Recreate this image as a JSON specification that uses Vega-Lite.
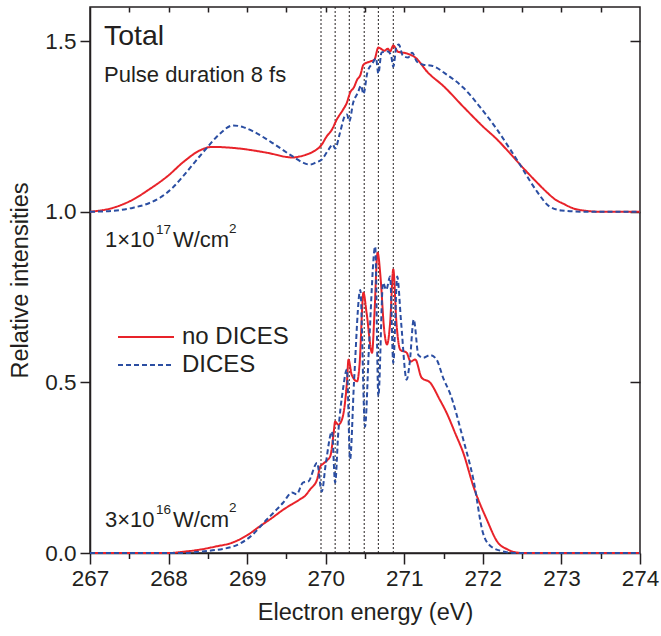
{
  "$schema": "https://vega.github.io/schema/vega-lite/v6.json",
  "autosize": {"type": "none"},
  "width": 550,
  "height": 546,
  "padding": {"left": 90, "top": 7, "right": 21, "bottom": 83},
  "background": "white",
  "config": {
    "font": "Liberation Sans",
    "view": {"stroke": "#231f20", "strokeWidth": 1.5},
    "axis": {
      "domainColor": "#231f20", "domainWidth": 1.5, "tickColor": "#231f20", "tickWidth": 1.5,
      "labelColor": "#231f20", "labelFontSize": 22.5, "titleFontSize": 23.5, "titleFontWeight": "normal",
      "titleColor": "#231f20", "grid": false, "labelFont": "Liberation Sans", "titleFont": "Liberation Sans"
    },
    "legend": {"labelFont": "Liberation Sans"}
  },
  "datasets": {
    "vlines": [{"e": 269.94}, {"e": 270.12}, {"e": 270.30}, {"e": 270.49}, {"e": 270.67}, {"e": 270.86}],
    "curves": [
      {"s": "no DICES", "g": "top", "e": 267.0, "v": 1.0},
      {"s": "no DICES", "g": "top", "e": 267.3, "v": 1.012},
      {"s": "no DICES", "g": "top", "e": 267.55, "v": 1.036},
      {"s": "no DICES", "g": "top", "e": 267.75, "v": 1.065},
      {"s": "no DICES", "g": "top", "e": 267.98, "v": 1.103},
      {"s": "no DICES", "g": "top", "e": 268.2, "v": 1.148},
      {"s": "no DICES", "g": "top", "e": 268.4, "v": 1.18},
      {"s": "no DICES", "g": "top", "e": 268.55, "v": 1.19},
      {"s": "no DICES", "g": "top", "e": 268.91, "v": 1.185},
      {"s": "no DICES", "g": "top", "e": 269.25, "v": 1.173},
      {"s": "no DICES", "g": "top", "e": 269.58, "v": 1.159},
      {"s": "no DICES", "g": "top", "e": 269.67, "v": 1.162},
      {"s": "no DICES", "g": "top", "e": 269.76, "v": 1.168},
      {"s": "no DICES", "g": "top", "e": 269.84, "v": 1.176},
      {"s": "no DICES", "g": "top", "e": 269.95, "v": 1.197},
      {"s": "no DICES", "g": "top", "e": 270.01, "v": 1.22},
      {"s": "no DICES", "g": "top", "e": 270.08, "v": 1.241},
      {"s": "no DICES", "g": "top", "e": 270.14, "v": 1.27},
      {"s": "no DICES", "g": "top", "e": 270.22, "v": 1.299},
      {"s": "no DICES", "g": "top", "e": 270.27, "v": 1.32},
      {"s": "no DICES", "g": "top", "e": 270.31, "v": 1.349},
      {"s": "no DICES", "g": "top", "e": 270.36, "v": 1.365},
      {"s": "no DICES", "g": "top", "e": 270.4, "v": 1.387},
      {"s": "no DICES", "g": "top", "e": 270.44, "v": 1.4},
      {"s": "no DICES", "g": "top", "e": 270.48, "v": 1.431},
      {"s": "no DICES", "g": "top", "e": 270.56, "v": 1.44},
      {"s": "no DICES", "g": "top", "e": 270.62, "v": 1.446},
      {"s": "no DICES", "g": "top", "e": 270.67, "v": 1.481},
      {"s": "no DICES", "g": "top", "e": 270.75, "v": 1.472},
      {"s": "no DICES", "g": "top", "e": 270.79, "v": 1.478},
      {"s": "no DICES", "g": "top", "e": 270.82, "v": 1.47},
      {"s": "no DICES", "g": "top", "e": 270.86, "v": 1.487},
      {"s": "no DICES", "g": "top", "e": 270.92, "v": 1.469},
      {"s": "no DICES", "g": "top", "e": 271.03, "v": 1.464},
      {"s": "no DICES", "g": "top", "e": 271.14, "v": 1.452},
      {"s": "no DICES", "g": "top", "e": 271.3, "v": 1.408},
      {"s": "no DICES", "g": "top", "e": 271.5, "v": 1.368},
      {"s": "no DICES", "g": "top", "e": 271.75, "v": 1.308},
      {"s": "no DICES", "g": "top", "e": 272.0, "v": 1.25},
      {"s": "no DICES", "g": "top", "e": 272.18, "v": 1.212},
      {"s": "no DICES", "g": "top", "e": 272.35, "v": 1.17},
      {"s": "no DICES", "g": "top", "e": 272.51, "v": 1.129},
      {"s": "no DICES", "g": "top", "e": 272.65, "v": 1.095},
      {"s": "no DICES", "g": "top", "e": 272.82, "v": 1.056},
      {"s": "no DICES", "g": "top", "e": 272.92, "v": 1.036},
      {"s": "no DICES", "g": "top", "e": 273.02, "v": 1.024},
      {"s": "no DICES", "g": "top", "e": 273.15, "v": 1.01},
      {"s": "no DICES", "g": "top", "e": 273.27, "v": 1.004},
      {"s": "no DICES", "g": "top", "e": 273.5, "v": 1.0},
      {"s": "no DICES", "g": "top", "e": 274.0, "v": 1.0},

      {"s": "DICES", "g": "top", "e": 267.0, "v": 1.0},
      {"s": "DICES", "g": "top", "e": 267.3, "v": 1.003},
      {"s": "DICES", "g": "top", "e": 267.55, "v": 1.012},
      {"s": "DICES", "g": "top", "e": 267.75, "v": 1.025},
      {"s": "DICES", "g": "top", "e": 267.89, "v": 1.041},
      {"s": "DICES", "g": "top", "e": 268.05, "v": 1.07},
      {"s": "DICES", "g": "top", "e": 268.18, "v": 1.103},
      {"s": "DICES", "g": "top", "e": 268.35, "v": 1.15},
      {"s": "DICES", "g": "top", "e": 268.49, "v": 1.188},
      {"s": "DICES", "g": "top", "e": 268.65, "v": 1.228},
      {"s": "DICES", "g": "top", "e": 268.82, "v": 1.253},
      {"s": "DICES", "g": "top", "e": 268.95, "v": 1.248},
      {"s": "DICES", "g": "top", "e": 269.08, "v": 1.235},
      {"s": "DICES", "g": "top", "e": 269.3, "v": 1.205},
      {"s": "DICES", "g": "top", "e": 269.58, "v": 1.162},
      {"s": "DICES", "g": "top", "e": 269.71, "v": 1.144},
      {"s": "DICES", "g": "top", "e": 269.8, "v": 1.138},
      {"s": "DICES", "g": "top", "e": 269.88, "v": 1.145},
      {"s": "DICES", "g": "top", "e": 269.95, "v": 1.153},
      {"s": "DICES", "g": "top", "e": 270.03, "v": 1.18},
      {"s": "DICES", "g": "top", "e": 270.09, "v": 1.197},
      {"s": "DICES", "g": "top", "e": 270.12, "v": 1.185},
      {"s": "DICES", "g": "top", "e": 270.18, "v": 1.23},
      {"s": "DICES", "g": "top", "e": 270.24, "v": 1.279},
      {"s": "DICES", "g": "top", "e": 270.27, "v": 1.285},
      {"s": "DICES", "g": "top", "e": 270.3, "v": 1.265},
      {"s": "DICES", "g": "top", "e": 270.35, "v": 1.32},
      {"s": "DICES", "g": "top", "e": 270.41, "v": 1.349},
      {"s": "DICES", "g": "top", "e": 270.45, "v": 1.37},
      {"s": "DICES", "g": "top", "e": 270.48, "v": 1.345},
      {"s": "DICES", "g": "top", "e": 270.53, "v": 1.408},
      {"s": "DICES", "g": "top", "e": 270.6, "v": 1.437},
      {"s": "DICES", "g": "top", "e": 270.64, "v": 1.45},
      {"s": "DICES", "g": "top", "e": 270.67, "v": 1.405},
      {"s": "DICES", "g": "top", "e": 270.71, "v": 1.466},
      {"s": "DICES", "g": "top", "e": 270.78, "v": 1.47},
      {"s": "DICES", "g": "top", "e": 270.83, "v": 1.46},
      {"s": "DICES", "g": "top", "e": 270.86, "v": 1.425},
      {"s": "DICES", "g": "top", "e": 270.9, "v": 1.484},
      {"s": "DICES", "g": "top", "e": 270.93, "v": 1.49},
      {"s": "DICES", "g": "top", "e": 270.98, "v": 1.458},
      {"s": "DICES", "g": "top", "e": 271.05, "v": 1.452},
      {"s": "DICES", "g": "top", "e": 271.1, "v": 1.466},
      {"s": "DICES", "g": "top", "e": 271.16, "v": 1.44},
      {"s": "DICES", "g": "top", "e": 271.24, "v": 1.431},
      {"s": "DICES", "g": "top", "e": 271.35, "v": 1.428},
      {"s": "DICES", "g": "top", "e": 271.54, "v": 1.402},
      {"s": "DICES", "g": "top", "e": 271.75, "v": 1.364},
      {"s": "DICES", "g": "top", "e": 271.96, "v": 1.308},
      {"s": "DICES", "g": "top", "e": 272.18, "v": 1.241},
      {"s": "DICES", "g": "top", "e": 272.35, "v": 1.182},
      {"s": "DICES", "g": "top", "e": 272.51, "v": 1.124},
      {"s": "DICES", "g": "top", "e": 272.6, "v": 1.09},
      {"s": "DICES", "g": "top", "e": 272.69, "v": 1.059},
      {"s": "DICES", "g": "top", "e": 272.85, "v": 1.015},
      {"s": "DICES", "g": "top", "e": 273.0, "v": 1.004},
      {"s": "DICES", "g": "top", "e": 273.3, "v": 1.0},
      {"s": "DICES", "g": "top", "e": 274.0, "v": 1.0},

      {"s": "no DICES", "g": "bottom", "e": 267.0, "v": 0.0},
      {"s": "no DICES", "g": "bottom", "e": 268.0, "v": 0.0},
      {"s": "no DICES", "g": "bottom", "e": 268.2, "v": 0.004},
      {"s": "no DICES", "g": "bottom", "e": 268.4, "v": 0.01},
      {"s": "no DICES", "g": "bottom", "e": 268.6, "v": 0.019},
      {"s": "no DICES", "g": "bottom", "e": 268.82, "v": 0.031},
      {"s": "no DICES", "g": "bottom", "e": 269.0, "v": 0.052},
      {"s": "no DICES", "g": "bottom", "e": 269.16, "v": 0.078},
      {"s": "no DICES", "g": "bottom", "e": 269.3, "v": 0.1},
      {"s": "no DICES", "g": "bottom", "e": 269.46, "v": 0.127},
      {"s": "no DICES", "g": "bottom", "e": 269.67, "v": 0.157},
      {"s": "no DICES", "g": "bottom", "e": 269.74, "v": 0.168},
      {"s": "no DICES", "g": "bottom", "e": 269.8, "v": 0.186},
      {"s": "no DICES", "g": "bottom", "e": 269.89, "v": 0.215},
      {"s": "no DICES", "g": "bottom", "e": 269.93, "v": 0.253},
      {"s": "no DICES", "g": "bottom", "e": 269.97, "v": 0.262},
      {"s": "no DICES", "g": "bottom", "e": 270.02, "v": 0.272},
      {"s": "no DICES", "g": "bottom", "e": 270.06, "v": 0.285},
      {"s": "no DICES", "g": "bottom", "e": 270.1, "v": 0.35},
      {"s": "no DICES", "g": "bottom", "e": 270.12, "v": 0.385},
      {"s": "no DICES", "g": "bottom", "e": 270.16, "v": 0.376},
      {"s": "no DICES", "g": "bottom", "e": 270.2, "v": 0.387},
      {"s": "no DICES", "g": "bottom", "e": 270.24, "v": 0.43},
      {"s": "no DICES", "g": "bottom", "e": 270.27, "v": 0.5},
      {"s": "no DICES", "g": "bottom", "e": 270.29, "v": 0.567},
      {"s": "no DICES", "g": "bottom", "e": 270.33, "v": 0.523},
      {"s": "no DICES", "g": "bottom", "e": 270.4, "v": 0.503},
      {"s": "no DICES", "g": "bottom", "e": 270.43, "v": 0.55},
      {"s": "no DICES", "g": "bottom", "e": 270.48, "v": 0.763},
      {"s": "no DICES", "g": "bottom", "e": 270.52, "v": 0.704},
      {"s": "no DICES", "g": "bottom", "e": 270.59, "v": 0.587},
      {"s": "no DICES", "g": "bottom", "e": 270.62, "v": 0.7},
      {"s": "no DICES", "g": "bottom", "e": 270.66, "v": 0.88},
      {"s": "no DICES", "g": "bottom", "e": 270.7, "v": 0.801},
      {"s": "no DICES", "g": "bottom", "e": 270.74, "v": 0.664},
      {"s": "no DICES", "g": "bottom", "e": 270.78, "v": 0.611},
      {"s": "no DICES", "g": "bottom", "e": 270.82, "v": 0.675},
      {"s": "no DICES", "g": "bottom", "e": 270.86, "v": 0.831},
      {"s": "no DICES", "g": "bottom", "e": 270.9, "v": 0.675},
      {"s": "no DICES", "g": "bottom", "e": 270.95, "v": 0.595},
      {"s": "no DICES", "g": "bottom", "e": 271.03, "v": 0.587},
      {"s": "no DICES", "g": "bottom", "e": 271.08, "v": 0.561},
      {"s": "no DICES", "g": "bottom", "e": 271.14, "v": 0.567},
      {"s": "no DICES", "g": "bottom", "e": 271.22, "v": 0.514},
      {"s": "no DICES", "g": "bottom", "e": 271.33, "v": 0.499},
      {"s": "no DICES", "g": "bottom", "e": 271.45, "v": 0.45},
      {"s": "no DICES", "g": "bottom", "e": 271.54, "v": 0.41},
      {"s": "no DICES", "g": "bottom", "e": 271.65, "v": 0.35},
      {"s": "no DICES", "g": "bottom", "e": 271.75, "v": 0.294},
      {"s": "no DICES", "g": "bottom", "e": 271.88, "v": 0.195},
      {"s": "no DICES", "g": "bottom", "e": 272.05, "v": 0.098},
      {"s": "no DICES", "g": "bottom", "e": 272.19, "v": 0.031},
      {"s": "no DICES", "g": "bottom", "e": 272.3, "v": 0.012},
      {"s": "no DICES", "g": "bottom", "e": 272.38, "v": 0.004},
      {"s": "no DICES", "g": "bottom", "e": 272.5, "v": 0.0},
      {"s": "no DICES", "g": "bottom", "e": 274.0, "v": 0.0},

      {"s": "DICES", "g": "bottom", "e": 267.0, "v": 0.0},
      {"s": "DICES", "g": "bottom", "e": 268.2, "v": 0.0},
      {"s": "DICES", "g": "bottom", "e": 268.4, "v": 0.004},
      {"s": "DICES", "g": "bottom", "e": 268.82, "v": 0.019},
      {"s": "DICES", "g": "bottom", "e": 269.04, "v": 0.048},
      {"s": "DICES", "g": "bottom", "e": 269.25, "v": 0.098},
      {"s": "DICES", "g": "bottom", "e": 269.46, "v": 0.148},
      {"s": "DICES", "g": "bottom", "e": 269.57, "v": 0.177},
      {"s": "DICES", "g": "bottom", "e": 269.63, "v": 0.172},
      {"s": "DICES", "g": "bottom", "e": 269.71, "v": 0.206},
      {"s": "DICES", "g": "bottom", "e": 269.78, "v": 0.21},
      {"s": "DICES", "g": "bottom", "e": 269.89, "v": 0.264},
      {"s": "DICES", "g": "bottom", "e": 269.95, "v": 0.18},
      {"s": "DICES", "g": "bottom", "e": 270.0, "v": 0.26},
      {"s": "DICES", "g": "bottom", "e": 270.08, "v": 0.356},
      {"s": "DICES", "g": "bottom", "e": 270.12, "v": 0.206},
      {"s": "DICES", "g": "bottom", "e": 270.16, "v": 0.353},
      {"s": "DICES", "g": "bottom", "e": 270.22, "v": 0.48},
      {"s": "DICES", "g": "bottom", "e": 270.27, "v": 0.538},
      {"s": "DICES", "g": "bottom", "e": 270.31, "v": 0.274},
      {"s": "DICES", "g": "bottom", "e": 270.36, "v": 0.5},
      {"s": "DICES", "g": "bottom", "e": 270.44, "v": 0.771},
      {"s": "DICES", "g": "bottom", "e": 270.5, "v": 0.37},
      {"s": "DICES", "g": "bottom", "e": 270.55, "v": 0.6},
      {"s": "DICES", "g": "bottom", "e": 270.63, "v": 0.898},
      {"s": "DICES", "g": "bottom", "e": 270.67, "v": 0.459},
      {"s": "DICES", "g": "bottom", "e": 270.73, "v": 0.792},
      {"s": "DICES", "g": "bottom", "e": 270.77, "v": 0.771},
      {"s": "DICES", "g": "bottom", "e": 270.82, "v": 0.81},
      {"s": "DICES", "g": "bottom", "e": 270.86, "v": 0.557},
      {"s": "DICES", "g": "bottom", "e": 270.91, "v": 0.81},
      {"s": "DICES", "g": "bottom", "e": 270.96, "v": 0.675},
      {"s": "DICES", "g": "bottom", "e": 271.03, "v": 0.508},
      {"s": "DICES", "g": "bottom", "e": 271.07, "v": 0.56},
      {"s": "DICES", "g": "bottom", "e": 271.12, "v": 0.684},
      {"s": "DICES", "g": "bottom", "e": 271.18, "v": 0.58},
      {"s": "DICES", "g": "bottom", "e": 271.24, "v": 0.572},
      {"s": "DICES", "g": "bottom", "e": 271.33, "v": 0.58},
      {"s": "DICES", "g": "bottom", "e": 271.41, "v": 0.567},
      {"s": "DICES", "g": "bottom", "e": 271.5, "v": 0.51},
      {"s": "DICES", "g": "bottom", "e": 271.58, "v": 0.469},
      {"s": "DICES", "g": "bottom", "e": 271.75, "v": 0.333},
      {"s": "DICES", "g": "bottom", "e": 271.88, "v": 0.215},
      {"s": "DICES", "g": "bottom", "e": 272.0, "v": 0.06},
      {"s": "DICES", "g": "bottom", "e": 272.1, "v": 0.02},
      {"s": "DICES", "g": "bottom", "e": 272.25, "v": 0.005},
      {"s": "DICES", "g": "bottom", "e": 272.4, "v": 0.0},
      {"s": "DICES", "g": "bottom", "e": 274.0, "v": 0.0}
    ],
    "labels": [
      {"kind": "big", "t": "Total", "e": 267.178, "v": 1.49},
      {"kind": "note", "t": "Pulse duration 8 fs", "e": 267.178, "v": 1.379},
      {"kind": "note", "t": "1×10", "e": 267.191, "v": 0.898},
      {"kind": "sup", "t": "17", "e": 267.84, "v": 0.936},
      {"kind": "note", "t": "W/cm", "e": 268.056, "v": 0.898},
      {"kind": "sup", "t": "2", "e": 268.77, "v": 0.939},
      {"kind": "note", "t": "3×10", "e": 267.191, "v": 0.0776},
      {"kind": "sup", "t": "16", "e": 267.84, "v": 0.1157},
      {"kind": "note", "t": "W/cm", "e": 268.056, "v": 0.0776},
      {"kind": "sup", "t": "2", "e": 268.77, "v": 0.119}
    ]
  },
  "layer": [
    {
      "data": {"name": "vlines"},
      "mark": {"type": "rule", "strokeDash": [2, 2], "strokeWidth": 1, "color": "#231f20"},
      "encoding": {
        "x": {"field": "e", "type": "quantitative", "scale": {"domain": [267, 274], "nice": false, "zero": false},
          "axis": {"orient": "bottom", "values": [267, 268, 269, 270, 271, 272, 273, 274], "format": "d", "tickSize": 11, "labelPadding": 3, "title": "Electron energy (eV)", "titlePadding": 11, "labelFlush": false}}
      }
    },
    {
      "data": {"name": "curves"},
      "mark": {"type": "line", "strokeWidth": 2, "interpolate": "monotone"},
      "encoding": {
        "x": {"field": "e", "type": "quantitative", "scale": {"domain": [267, 274], "nice": false, "zero": false},
          "axis": {"orient": "bottom", "values": [267.5, 268.5, 269.5, 270.5, 271.5, 272.5, 273.5], "labels": false, "tickSize": 5.5, "domain": false, "title": null}},
        "y": {"field": "v", "type": "quantitative", "scale": {"domain": [0, 1.6], "nice": false},
          "axis": {"orient": "left", "values": [0, 0.5, 1, 1.5], "format": ".1f", "tickSize": 10, "labelPadding": 4, "title": "Relative intensities", "titlePadding": 12}},
        "color": {"field": "s", "type": "nominal", "scale": {"domain": ["no DICES", "DICES"], "range": ["#e8232a", "#2b4ea2"]},
          "legend": {"title": null, "orient": "none", "legendX": 27, "legendY": 316, "symbolType": "stroke", "symbolSize": 3136, "symbolStrokeWidth": 2, "labelFontSize": 24, "labelColor": "#231f20", "labelOffset": 7, "padding": 0, "rowPadding": 0, "clipHeight": 28}},
        "strokeDash": {"field": "s", "type": "nominal", "scale": {"domain": ["no DICES", "DICES"], "range": [[1, 0], [5, 3]]},
          "legend": {"title": null, "orient": "none", "legendX": 27, "legendY": 316, "symbolType": "stroke", "symbolSize": 3136, "symbolStrokeWidth": 2, "labelFontSize": 24, "labelColor": "#231f20", "labelOffset": 7, "padding": 0, "rowPadding": 0, "clipHeight": 28}},
        "detail": {"field": "g", "type": "nominal"}
      }
    },
    {
      "data": {"name": "labels"},
      "transform": [{"filter": "datum.kind === 'big'"}],
      "mark": {"type": "text", "fontSize": 28.5, "align": "left", "baseline": "alphabetic", "color": "#231f20"},
      "encoding": {
        "x": {"field": "e", "type": "quantitative", "scale": {"domain": [267, 274], "nice": false, "zero": false},
          "axis": {"orient": "top", "values": [267.5, 268, 268.5, 269, 269.5, 270, 270.5, 271, 271.5, 272, 272.5, 273, 273.5], "labels": false, "tickSize": -5, "domain": false, "title": null}},
        "y": {"field": "v", "type": "quantitative", "scale": {"domain": [0, 1.6], "nice": false},
          "axis": {"orient": "right", "values": [0.5, 1, 1.5], "labels": false, "tickSize": -10, "domain": false, "title": null}},
        "text": {"field": "t"}
      }
    },
    {
      "data": {"name": "labels"},
      "transform": [{"filter": "datum.kind === 'note'"}],
      "mark": {"type": "text", "fontSize": 22, "align": "left", "baseline": "alphabetic", "color": "#231f20"},
      "encoding": {
        "x": {"field": "e", "type": "quantitative", "axis": null},
        "y": {"field": "v", "type": "quantitative", "axis": null},
        "text": {"field": "t"}
      }
    },
    {
      "data": {"name": "labels"},
      "transform": [{"filter": "datum.kind === 'sup'"}],
      "mark": {"type": "text", "fontSize": 13.5, "align": "left", "baseline": "alphabetic", "color": "#231f20"},
      "encoding": {
        "x": {"field": "e", "type": "quantitative", "axis": null},
        "y": {"field": "v", "type": "quantitative", "axis": null},
        "text": {"field": "t"}
      }
    }
  ],
  "resolve": {"axis": {"x": "independent", "y": "independent"}}
}
